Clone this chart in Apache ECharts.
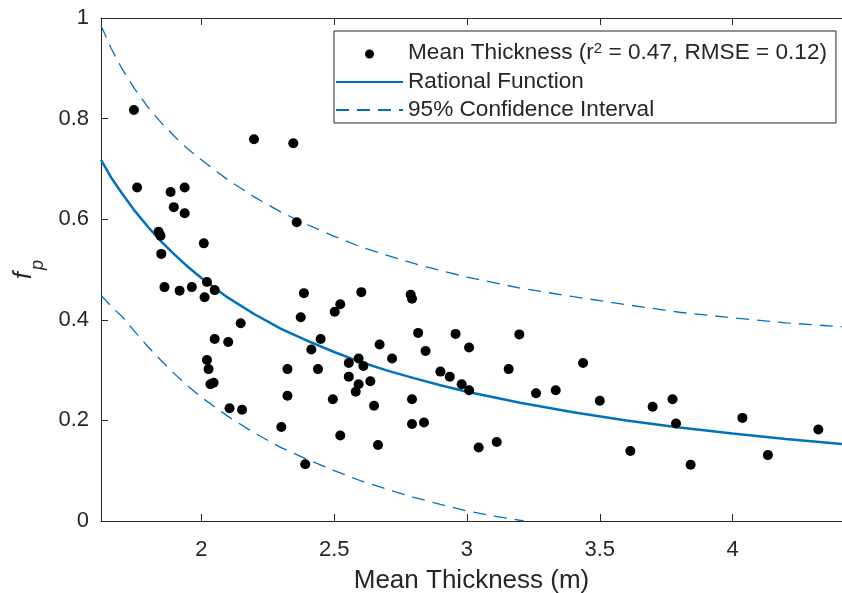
<!DOCTYPE html>
<html><head><meta charset="utf-8">
<script src="https://cdn.jsdelivr.net/npm/echarts@6/dist/echarts.min.js"></script>
<style>html,body{margin:0;padding:0;background:#fff}#c{width:842px;height:593px}</style>
</head><body><div id="c"></div>
<script>
// Mean thickness (m) and f_p observations
const thickness = [1.746,1.758,1.884,1.937,1.896,1.937,1.839,1.846,2.009,1.849,2.021,2.198,2.346,2.359,
  1.861,1.918,1.964,2.012,2.050,2.148,2.050,2.101,2.021,2.027,2.034,2.046,2.106,2.153,2.301,2.324,2.324,
  2.386,2.374,2.449,2.414,2.439,2.495,2.523,2.502,2.523,2.555,2.555,2.602,2.788,2.793,
  2.671,2.718,2.592,2.610,2.581,2.592,2.636,2.650,2.665,2.391,2.816,2.844,2.957,3.008,3.197,
  2.900,2.935,2.980,3.008,3.157,3.260,3.334,2.793,2.793,2.838,3.044,3.112,
  3.437,3.500,3.699,3.774,3.787,4.037,4.323,3.615,3.842,4.133];
const fp = [0.817,0.663,0.654,0.663,0.624,0.612,0.575,0.567,0.552,0.531,0.475,0.759,0.751,0.594,
  0.465,0.458,0.465,0.445,0.459,0.393,0.362,0.356,0.320,0.302,0.272,0.275,0.224,0.221,0.187,0.302,0.249,
  0.453,0.405,0.362,0.341,0.302,0.242,0.170,0.416,0.431,0.314,0.287,0.455,0.450,0.442,
  0.351,0.323,0.323,0.308,0.257,0.272,0.278,0.229,0.151,0.113,0.374,0.338,0.372,0.345,0.371,
  0.297,0.287,0.272,0.260,0.302,0.254,0.260,0.242,0.193,0.196,0.146,0.157,
  0.314,0.239,0.227,0.242,0.194,0.205,0.182,0.139,0.112,0.131];

// Curves
const curveX = [1.622,1.66,1.7,1.75,1.8,1.85,1.9,1.95,2.0,2.1,2.2,2.3,2.4,2.5,2.6,2.7,2.8,2.9,3.0,3.2,3.4,3.6,3.8,4.0,4.2,4.412];
const fitY   = [0.718,0.683,0.652,0.616,0.584,0.555,0.529,0.505,0.483,0.444,0.411,0.382,0.358,0.336,0.316,0.299,0.284,0.270,0.257,0.235,0.216,0.200,0.186,0.174,0.163,0.153];
const upperY = [0.985,0.940,0.900,0.858,0.822,0.791,0.764,0.739,0.718,0.678,0.644,0.614,0.589,0.566,0.545,0.528,0.512,0.498,0.485,0.463,0.446,0.430,0.415,0.404,0.394,0.386];
const lowerX = [1.622,1.66,1.7,1.75,1.8,1.85,1.9,1.95,2.0,2.1,2.2,2.3,2.4,2.5,2.6,2.7,2.8,2.9,3.0,3.1,3.214];
const lowerY = [0.449,0.427,0.407,0.376,0.346,0.318,0.292,0.268,0.246,0.208,0.175,0.146,0.122,0.100,0.080,0.063,0.047,0.033,0.020,0.010,0.0];

const xTicks = [2, 2.5, 3, 3.5, 4];
const xRange = [1.622, 4.412];
const yRange = [0, 1];
const yStep = 0.2;

const names = ['Mean Thickness', 'Rational Function', '95% Confidence Interval'];

const zip = (a, b) => a.map((v, i) => [v, b[i]]);
const axisColor = '#262626';
const blue = '#0072BD';
const FONT = 'Liberation Sans';
const LFS = 22.6;

const chart = echarts.init(document.getElementById('c'));
chart.setOption({
  animation: false,
  backgroundColor: '#fff',
  textStyle: { fontFamily: FONT },
  grid: { left: 101, right: 0, top: 18, bottom: 72, containLabel: false, outerBoundsMode: 'none' },
  legend: {
    orient: 'vertical', left: 334, top: 31,
    data: [
      { name: names[0] },
      { name: names[1], itemStyle: { opacity: 0 } },
      { name: names[2], itemStyle: { opacity: 0 } }
    ],
    backgroundColor: '#fff',
    borderColor: '#262626', borderWidth: 1,
    padding: [6, 9, 0, 1],
    itemWidth: 67, itemHeight: 9, itemGap: 2,
    textStyle: { fontFamily: FONT, fontSize: LFS, lineHeight: 26, color: axisColor,
      rich: {
        n: { fontFamily: FONT, fontSize: LFS, color: axisColor, lineHeight: 26 },
        m: { fontFamily: FONT, fontSize: LFS, color: axisColor, lineHeight: 26, padding: [4, 0, 3, 0], verticalAlign: 'bottom' },
        s: { fontFamily: FONT, fontSize: 15, color: axisColor, lineHeight: 12, verticalAlign: 'top' }
      } },
    formatter: function (name) {
      if (name === names[0]) return '{m|Mean Thickness (r}{s|2}{m| = 0.47, RMSE = 0.12)}';
      return '{n|' + name + '}';
    }
  },
  xAxis: [{
    type: 'value', min: xRange[0], max: xRange[1],
    name: 'Mean Thickness (m)', nameLocation: 'middle', nameGap: 47,
    nameTextStyle: { fontFamily: FONT, fontSize: 26, color: axisColor },
    axisLine: { show: true, lineStyle: { color: axisColor, width: 1 } },
    axisTick: { show: true, inside: true, length: 7, customValues: xTicks, lineStyle: { color: axisColor } },
    axisLabel: { customValues: xTicks, fontFamily: FONT, fontSize: 22, color: axisColor, margin: 18 },
    splitLine: { show: false }
  }, {
    type: 'value', position: 'top', min: xRange[0], max: xRange[1],
    axisLine: { show: true, onZero: false, lineStyle: { color: axisColor, width: 1 } },
    axisTick: { show: true, inside: true, length: 7, customValues: xTicks, lineStyle: { color: axisColor } },
    axisLabel: { show: false }, splitLine: { show: false }
  }],
  yAxis: {
    type: 'value', min: yRange[0], max: yRange[1], interval: yStep,
    name: '{f|f}{p|p}', nameLocation: 'middle', nameGap: 54, nameRotate: 90,
    nameTextStyle: { rich: {
      f: { fontFamily: FONT, fontStyle: 'italic', fontSize: 25, color: axisColor, padding: [0, 2, 10, 0], verticalAlign: 'top' },
      p: { fontFamily: FONT, fontStyle: 'italic', fontSize: 18, color: axisColor, verticalAlign: 'bottom' }
    } },
    axisLine: { show: true, lineStyle: { color: axisColor, width: 1 } },
    axisTick: { show: true, inside: true, length: 7, lineStyle: { color: axisColor } },
    axisLabel: { fontFamily: FONT, fontSize: 22, color: axisColor, margin: 12 },
    splitLine: { show: false }
  },
  series: [
    { name: names[0], type: 'scatter', data: zip(thickness, fp), symbol: 'circle', symbolSize: 10,
      itemStyle: { color: '#000', opacity: 1 }, z: 5 },
    { name: names[1], type: 'line', data: zip(curveX, fitY), showSymbol: false, symbol: 'none',
      lineStyle: { color: blue, width: 2.5 }, itemStyle: { color: blue }, z: 3 },
    { name: names[2], type: 'line', data: zip(curveX, upperY), showSymbol: false, symbol: 'none',
      lineStyle: { color: blue, width: 1.3, type: [13, 8] }, itemStyle: { color: blue }, z: 3 },
    { name: names[2], type: 'line', data: zip(lowerX, lowerY), showSymbol: false, symbol: 'none',
      lineStyle: { color: blue, width: 1.3, type: [13, 8] }, itemStyle: { color: blue }, z: 3 }
  ]
});
</script>
</body></html>
